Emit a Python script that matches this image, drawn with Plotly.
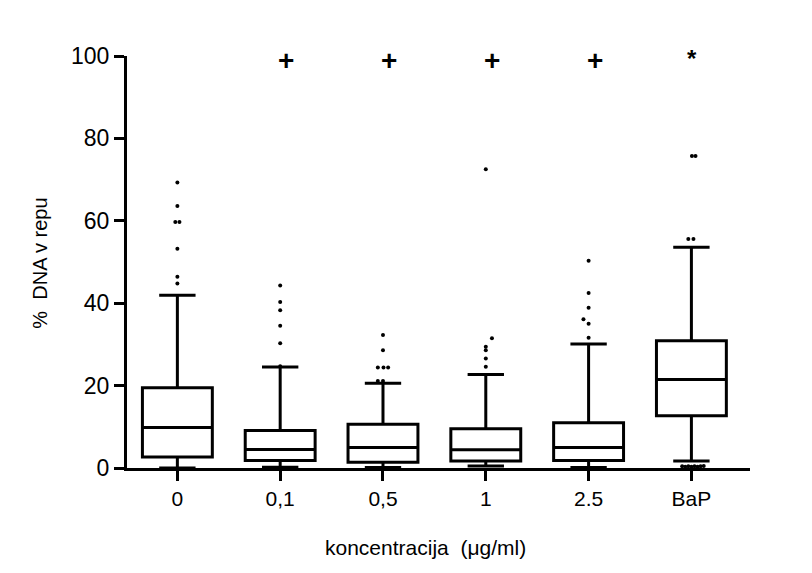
import plotly.graph_objects as go

categories = ["0", "0,1", "0,5", "1", "2.5", "BaP"]
q1 = [2.7, 1.8, 1.4, 1.7, 1.8, 12.7]
median = [9.8, 4.5, 5.0, 4.4, 5.0, 21.5]
q3 = [19.5, 9.1, 10.6, 9.5, 11.0, 30.9]
lower = [0.0, 0.2, 0.1, 0.5, 0.1, 1.7]
upper = [41.9, 24.5, 20.6, 22.7, 30.1, 53.6]

# outliers: (category index, value, horizontal jitter in category units)
out_cat = [0, 0, 0, 0, 0, 0, 0,
           1, 1, 1, 1, 1, 1,
           2, 2, 2, 2, 2, 2, 2,
           3, 3, 3, 3, 3, 3,
           4, 4, 4, 4, 4, 4,
           5, 5, 5, 5, 5, 5, 5, 5, 5, 5, 5, 5]
out_val = [69.3, 63.6, 59.7, 59.7, 53.2, 46.4, 44.8,
           44.3, 40.3, 38.3, 34.5, 30.3, 24.7,
           32.3, 28.6, 24.4, 24.4, 24.4, 21.1, 21.1,
           72.5, 31.5, 29.4, 28.6, 26.6, 24.6,
           50.3, 42.5, 38.9, 36.1, 35.0, 31.6,
           75.7, 75.7, 55.6, 55.6, 0.4, 0.3, 0.4, 0.3, 0.4, 0.3, 0.4, 0.5]
out_dx = [0, 0, -0.02, 0.02, 0, 0, 0,
          0, 0, 0, 0, 0, 0,
          0, 0, -0.05, 0.005, 0.05, -0.05, 0.0,
          0, 0.06, 0, 0, 0, 0,
          0, 0, 0, -0.05, 0, 0,
          0.005, 0.04, -0.03, 0.02, -0.09, -0.06, -0.03, 0.0, 0.03, 0.06, 0.09, 0.12]

sig_cat = [1, 2, 3, 4, 5]
sig_mark = ["+", "+", "+", "+", "*"]
sig_y = 99

FONT = "Arial, Liberation Sans, sans-serif"

fig = go.Figure()
for i, c in enumerate(categories):
    fig.add_trace(go.Box(
        x=[i], q1=[q1[i]], median=[median[i]], q3=[q3[i]],
        lowerfence=[lower[i]], upperfence=[upper[i]],
        width=0.68, whiskerwidth=0.52,
        line=dict(color="black", width=3), fillcolor="white",
        boxpoints=False, showlegend=False, hoverinfo="skip",
    ))

fig.add_trace(go.Scatter(
    x=[c + d for c, d in zip(out_cat, out_dx)], y=out_val,
    mode="markers", marker=dict(color="black", size=4),
    showlegend=False, hoverinfo="skip", cliponaxis=False,
))

for c, m in zip(sig_cat, sig_mark):
    fig.add_annotation(x=c, y=sig_y, xref="x", yref="y", text=f"<b>{m}</b>",
                       showarrow=False, font=dict(family=FONT, size=28 if m == "+" else 24, color="black"),
                       xshift=6 if m == "+" else 1, yshift=0 if m == "+" else 2)

fig.add_annotation(x=0.479, y=-0.194, xref="paper", yref="paper",
                   xanchor="center", yanchor="middle",
                   text="koncentracija  (μg/ml)", showarrow=False,
                   font=dict(family=FONT, size=21, color="black"))
fig.add_annotation(x=-0.139, y=0.497, xref="paper", yref="paper",
                   xanchor="center", yanchor="middle",
                   text="%  DNA v repu", showarrow=False, textangle=-90,
                   font=dict(family=FONT, size=20, color="black"))

fig.update_layout(
    width=812, height=573,
    margin=dict(l=127, r=62, t=56, b=105),
    plot_bgcolor="white", paper_bgcolor="white",
    font=dict(family=FONT, color="black"),
)
fig.update_xaxes(range=[-0.49, 5.57], tickvals=list(range(len(categories))), ticktext=categories,
                 showgrid=False, zeroline=False, showline=True, linecolor="black", linewidth=3,
                 ticks="outside", ticklen=10, tickwidth=3, tickcolor="black",
                 tickfont=dict(family=FONT, size=21, color="black"))
fig.update_yaxes(range=[0, 100], tickvals=[0, 20, 40, 60, 80, 100],
                 showgrid=False, zeroline=False, showline=True, linecolor="black", linewidth=3,
                 ticks="outside", ticklen=10, tickwidth=3, tickcolor="black",
                 tickfont=dict(family=FONT, size=23, color="black"))

fig.write_html("out.html")
